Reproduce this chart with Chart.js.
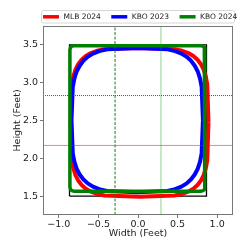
<!DOCTYPE html>
<html lang="en">
<head>
  <meta charset="UTF-8">
  <title>Strike Zone Comparison</title>
  <script src="https://cdn.jsdelivr.net/npm/chart.js"></script>
  <style>
    html, body { margin: 0; padding: 0; background: #fff; }
    #zoneChart { display: block; }
  </style>
</head>
<body>
  <canvas id="zoneChart" width="249" height="249"></canvas>
  <script>
    // Contour points (feet)
    const mlbX = [0.89, 0.875, 0.856, 0.830, 0.795, 0.752, 0.699, 0.635, 0.558, 0.463, 0.02,
      -0.423, -0.518, -0.595, -0.659, -0.712, -0.755, -0.790, -0.816, -0.835, -0.85,
      -0.835, -0.816, -0.790, -0.755, -0.712, -0.659, -0.595, -0.518, -0.423, 0.02,
      0.463, 0.558, 0.635, 0.699, 0.752, 0.795, 0.830, 0.856, 0.875, 0.89];
    const mlbY = [2.475, 2.976, 3.084, 3.172, 3.244, 3.303, 3.352, 3.392, 3.422, 3.443, 3.46,
      3.443, 3.422, 3.392, 3.352, 3.303, 3.244, 3.172, 3.084, 2.976, 2.475,
      1.974, 1.866, 1.778, 1.706, 1.647, 1.598, 1.558, 1.528, 1.507, 1.49,
      1.507, 1.528, 1.558, 1.598, 1.647, 1.706, 1.778, 1.866, 1.974, 2.475];

    const kbo23X = [0.82, 0.804, 0.783, 0.755, 0.717, 0.671, 0.615, 0.549, 0.469, 0.373, -0.01,
      -0.393, -0.489, -0.569, -0.635, -0.691, -0.737, -0.775, -0.803, -0.824, -0.84,
      -0.824, -0.803, -0.775, -0.737, -0.691, -0.635, -0.569, -0.489, -0.393, -0.01,
      0.373, 0.469, 0.549, 0.615, 0.671, 0.717, 0.755, 0.783, 0.804, 0.82];
    const kbo23Y = [2.505, 2.946, 3.057, 3.148, 3.224, 3.289, 3.342, 3.385, 3.418, 3.441, 3.46,
      3.441, 3.418, 3.385, 3.342, 3.289, 3.224, 3.148, 3.057, 2.946, 2.505,
      2.064, 1.953, 1.862, 1.786, 1.722, 1.668, 1.625, 1.592, 1.569, 1.55,
      1.569, 1.592, 1.625, 1.668, 1.722, 1.786, 1.862, 1.953, 2.064, 2.505];

    const kbo24X = [0, 0.79, 0.822, 0.838, 0.845, 0.845, 0.838, 0.822, 0.79,
      -0.805, -0.837, -0.853, -0.86, -0.86, -0.853, -0.837, -0.805, 0];
    const kbo24Y = [3.49, 3.49, 3.482, 3.466, 3.435, 1.62, 1.589, 1.573, 1.565,
      1.565, 1.573, 1.589, 1.62, 3.435, 3.466, 3.482, 3.49, 3.49];

    // rule-book zone and its thirds
    const boxX = [-0.865, 0.865, 0.865, -0.865, -0.865];
    const boxY = [1.5, 1.5, 3.5, 3.5, 1.5];
    const thirdX = [-0.29, 0.29];
    const thirdY = [2.17, 2.83];

    const xRange = [-1.2, 1.2];
    const yRange = [1.25, 3.75];
    const xTicks = [-1.0, -0.5, 0.0, 0.5, 1.0];
    const yTicks = [1.5, 2.0, 2.5, 3.0, 3.5];

    const seriesLabels = ['MLB 2024', 'KBO 2023', 'KBO 2024'];
    const seriesColors = ['#ff0000', '#0000ff', '#008000'];

    function pts(xs, ys) {
      return xs.map((x, i) => ({ x: x, y: ys[i] }));
    }

    const FONT = '"DejaVu Sans", sans-serif';

    // matplotlib-like legend with a frame
    const legendBox = {
      id: 'legendBox',
      afterDraw(chart) {
        const c = chart.ctx;
        c.save();
        c.beginPath();
        c.roundRect(41.5, 10.5, 193, 12.5, 2);
        c.fillStyle = 'rgba(255,255,255,0.8)';
        c.fill();
        c.strokeStyle = '#d6d6d6';
        c.lineWidth = 1;
        c.stroke();
        c.font = '7.5px ' + FONT;
        c.textBaseline = 'middle';
        let x = 43;
        const y = 16.8;
        seriesLabels.forEach((lab, i) => {
          c.strokeStyle = seriesColors[i];
          c.lineWidth = 3.5;
          c.beginPath();
          c.moveTo(x, y);
          c.lineTo(x + 16, y);
          c.stroke();
          c.fillStyle = '#222';
          c.fillText(lab, x + 20.5, y);
          x += 20.5 + c.measureText(lab).width + 10.5;
        });
        c.restore();
      }
    };

    // full frame around the plot area
    const frame = {
      id: 'frame',
      afterDatasetsDraw(chart) {
        const a = chart.chartArea;
        const c = chart.ctx;
        c.save();
        c.strokeStyle = '#777';
        c.lineWidth = 1;
        c.strokeRect(Math.round(a.left) + 0.5, Math.round(a.top) + 0.5,
          Math.round(a.right - a.left) - 1, Math.round(a.bottom - a.top) - 1);
        c.restore();
      }
    };

    const lineDs = (data, color, width, extra) => Object.assign({
      data: data,
      showLine: true,
      borderColor: color,
      backgroundColor: color,
      borderWidth: width,
      borderJoinStyle: 'round',
      pointRadius: 0,
      pointHoverRadius: 0,
      tension: 0,
      fill: false
    }, extra || {});

    const datasets = [
      // thirds lines on top
      lineDs(pts([thirdX[0], thirdX[0]], yRange), '#1a7a1a', 1, { borderDash: [3, 1.5] }),
      lineDs(pts([thirdX[1], thirdX[1]], yRange), 'rgba(0,160,0,0.45)', 1),
      lineDs(pts(xRange, [thirdY[1], thirdY[1]]), 'rgba(210,0,0,0.9)', 1, { borderDash: [1, 1] }),
      lineDs(pts(xRange, [thirdY[0], thirdY[0]]), 'rgba(255,0,0,0.5)', 1),
      lineDs(pts(kbo24X, kbo24Y), seriesColors[2], 3.5),
      lineDs(pts(kbo23X, kbo23Y), seriesColors[1], 4),
      lineDs(pts(mlbX, mlbY), seriesColors[0], 4),
      lineDs(pts(boxX, boxY), '#000', 1.3, { borderJoinStyle: 'miter' })
    ];

    new Chart(document.getElementById('zoneChart'), {
      type: 'scatter',
      data: { datasets: datasets },
      plugins: [legendBox, frame],
      options: {
        responsive: false,
        animation: false,
        devicePixelRatio: 1,
        layout: { padding: { left: 0, right: 16, top: 26, bottom: 0 } },
        plugins: { legend: { display: false }, tooltip: { enabled: false } },
        events: [],
        scales: {
          x: {
            type: 'linear',
            min: xRange[0],
            max: xRange[1],
            afterBuildTicks: s => { s.ticks = xTicks.map(v => ({ value: v })); },
            afterFit: s => { s.height = 34; },
            grid: { drawOnChartArea: false, drawTicks: true, tickLength: 3, color: '#777' },
            border: { display: false },
            ticks: {
              color: '#222',
              padding: 1,
              maxRotation: 0,
              font: { family: FONT, size: 9.5 },
              callback: v => (v < 0 ? '\u2212' : '') + Math.abs(v).toFixed(1)
            },
            title: {
              display: true,
              text: 'Width (Feet)',
              color: '#222',
              font: { family: FONT, size: 9.5 },
              padding: { top: 0, bottom: 10 }
            }
          },
          y: {
            type: 'linear',
            min: yRange[0],
            max: yRange[1],
            afterBuildTicks: s => { s.ticks = yTicks.map(v => ({ value: v })); },
            afterFit: s => { s.width = 43; },
            grid: { drawOnChartArea: false, drawTicks: true, tickLength: 3, color: '#777' },
            border: { display: false },
            ticks: {
              color: '#222',
              padding: 2,
              font: { family: FONT, size: 9.5 },
              callback: v => v.toFixed(1)
            },
            title: {
              display: true,
              text: 'Height (Feet)',
              color: '#222',
              font: { family: FONT, size: 9.5 },
              padding: { top: 12, bottom: 0 }
            }
          }
        }
      }
    });
  </script>
</body>
</html>
